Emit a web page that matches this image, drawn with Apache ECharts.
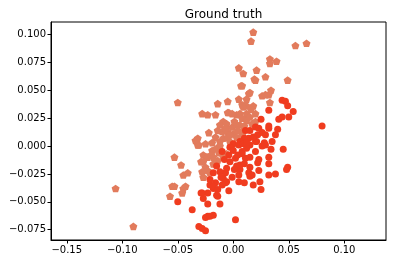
<!DOCTYPE html>
<html><head><meta charset="utf-8">
<script src="https://cdn.jsdelivr.net/npm/echarts@6/dist/echarts.min.js"></script>
<style>html,body{margin:0;padding:0;background:#fff}#c{width:393px;height:264px}</style>
</head><body><div id="c"></div>
<script>
const title = 'Ground truth';
const xTicks = [-0.15, -0.10, -0.05, 0.00, 0.05, 0.10];
const yTicks = [-0.075, -0.050, -0.025, 0.000, 0.025, 0.050, 0.075, 0.100];
const xRange = [-0.1642, 0.1376];
const yRange = [-0.0842, 0.1111];

// salmon pentagons
const seriesB = [
[0.018,0.102],[0.016,0.094],[0.056,0.090],[0.066,0.092],[0.033,0.078],[0.033,0.074],[0.039,0.076],
[0.005,0.070],[0.021,0.068],[0.009,0.065],[0.019,0.060],[0.029,0.062],[0.049,0.059],[0.008,0.054],
[0.020,0.059],[0.014,0.047],[0.026,0.045],[0.032,0.046],[0.034,0.050],[0.005,0.042],[0.012,0.042],
[0.033,0.039],[-0.014,0.038],[-0.005,0.040],[0.008,0.037],[-0.028,0.029],[-0.023,0.028],[-0.016,0.028],
[-0.004,0.030],[0.003,0.028],[-0.050,0.039],[-0.032,0.007],[-0.014,0.014],[-0.032,0.001],[-0.053,-0.010],
[-0.047,-0.017],[-0.045,-0.026],[-0.041,-0.024],[-0.055,-0.036],[-0.053,-0.036],[-0.057,-0.045],
[-0.045,-0.038],[-0.043,-0.036],[-0.046,-0.042],[-0.106,-0.038],[-0.090,-0.072],[-0.029,-0.014],
[-0.023,-0.010],[0.018,0.036],[0.012,0.036],[0.020,0.029],[0.012,0.029],[0.006,0.019],[0.009,0.014],
[-0.009,0.022],[-0.006,0.020],[-0.001,0.017],[0.003,0.019],[-0.010,0.013],[-0.005,0.013],[0.000,0.011],
[-0.009,0.007],[-0.005,0.008],[0.003,0.008],[0.008,0.010],[-0.034,0.005],[-0.031,0.001],[-0.025,0.002],
[-0.019,0.003],[-0.012,0.004],[-0.003,0.004],[-0.027,-0.008],[-0.024,-0.010],[-0.019,-0.004],
[-0.015,-0.002],[-0.027,-0.014],[-0.025,-0.019],[-0.023,-0.022],[-0.021,-0.024],[-0.028,-0.023],
[-0.027,-0.028],[-0.018,-0.016],[-0.014,-0.013],[-0.009,-0.010],[-0.006,-0.007],[0.007,0.054],
[0.015,0.048],[0.029,0.046],[0.009,0.035],[-0.005,0.030],[-0.001,0.029],[0.006,0.029],[0.008,0.025],
[0.012,0.023],[0.015,0.026],[0.020,0.022],[0.016,0.033],[0.017,0.020],[-0.012,0.000],[-0.020,-0.008],
[-0.016,0.008],[-0.001,0.000],[0.004,0.014],[-0.022,0.012],[-0.007,0.016],[0.001,0.022],
[-0.012,0.019],[0.010,0.018],[-0.003,0.010],[-0.018,-0.010],[-0.013,-0.006]
];

// red circles
const seriesA = [
[0.080,0.018],[0.044,0.041],[0.047,0.040],[0.049,0.036],[0.032,0.032],[0.054,0.031],[0.041,0.024],
[0.044,0.026],[0.050,0.026],[0.025,0.024],[0.032,0.018],[0.032,0.016],[0.020,0.017],[0.023,0.016],
[0.011,0.014],[0.015,0.014],[0.022,0.010],[0.029,0.010],[0.038,0.010],[0.014,0.007],[0.010,0.007],
[0.021,0.004],[0.028,0.003],[0.035,0.004],[0.006,0.004],[0.000,0.002],[0.045,-0.003],[0.034,-0.003],
[0.032,-0.010],[0.032,-0.016],[0.023,-0.012],[0.022,-0.015],[0.049,-0.019],[0.048,-0.021],[0.023,-0.022],
[0.006,-0.021],[0.015,-0.019],[0.032,-0.026],[0.038,-0.025],[0.015,-0.027],[0.014,-0.024],[0.005,-0.026],
[0.005,-0.032],[0.010,-0.033],[0.024,-0.032],[0.025,-0.039],[-0.007,-0.024],[-0.006,-0.032],
[-0.007,-0.033],[-0.016,-0.033],[-0.021,-0.035],[-0.018,-0.038],[-0.014,-0.045],[-0.023,-0.052],
[-0.018,-0.062],[-0.023,-0.063],[-0.025,-0.064],[0.002,-0.066],[-0.028,-0.074],[-0.025,-0.076],
[-0.050,-0.050],[-0.037,-0.057],[-0.031,-0.072],[-0.029,-0.042],[-0.021,-0.063],[-0.003,-0.001],
[0.005,0.001],[0.008,-0.005],[0.002,-0.011],[-0.003,-0.014],[0.006,-0.017],[-0.006,-0.020],
[-0.012,-0.023],[-0.018,-0.024],[-0.009,-0.029],[-0.001,-0.028],[-0.018,-0.036],[-0.014,-0.039],
[-0.023,-0.042],[-0.028,-0.042],[-0.027,-0.047],[-0.015,-0.044],[-0.021,-0.030],[-0.010,-0.035],
[0.009,0.002],[0.015,0.001],[0.020,0.004],[0.029,0.001],[0.008,-0.007],[0.011,-0.011],[0.015,-0.010],
[0.020,-0.005],[0.017,-0.026],[-0.010,-0.005],[-0.008,-0.012],[0.000,-0.004],[0.012,0.003],
[0.026,0.000],[0.040,0.015],[0.018,-0.035],[-0.004,-0.040],[-0.012,-0.052],[0.003,-0.018],
[-0.015,-0.018],[0.004,-0.008],[0.012,-0.002],[0.018,0.008],[0.026,0.012],[0.001,-0.021],
[-0.004,-0.008],[0.010,-0.016],[-0.011,-0.028]
];

const fmt = (v, d) => (v < 0 ? '\u2212' : '') + Math.abs(v).toFixed(d);
const pentagon = 'path://M0,-1 L0.951,-0.309 L0.588,0.809 L-0.588,0.809 L-0.951,-0.309 Z';
const font = 'DejaVu Sans';

const chart = echarts.init(document.getElementById('c'), null, {renderer: 'canvas'});
chart.setOption({
  animation: false,
  title: {text: title, left: 218.5, top: 4, textAlign: 'center',
    textStyle: {fontFamily: font, fontSize: 12, fontWeight: 'normal', color: '#000'}},
  grid: {left: 51, right: 7, top: 22, bottom: 24, show: true, borderColor: '#000', borderWidth: 1, backgroundColor: 'transparent'},
  xAxis: {type: 'value', min: xRange[0], max: xRange[1],
    axisLine: {show: true, onZero: false, lineStyle: {color: '#000', width: 1}},
    splitLine: {show: false},
    axisTick: {show: true, length: 3.5, lineStyle: {color: '#000'}, customValues: xTicks},
    axisLabel: {fontFamily: font, fontSize: 10, color: '#000', margin: 5, customValues: xTicks,
      formatter: v => fmt(v, 2)}},
  yAxis: {type: 'value', min: yRange[0], max: yRange[1],
    axisLine: {show: true, onZero: false, lineStyle: {color: '#000', width: 1}},
    splitLine: {show: false},
    axisTick: {show: true, length: 3.5, lineStyle: {color: '#000'}, customValues: yTicks},
    axisLabel: {fontFamily: font, fontSize: 10, color: '#000', margin: 5, customValues: yTicks,
      formatter: v => fmt(v, 3)}},
  series: [
    {type: 'scatter', data: seriesB, symbol: pentagon, symbolKeepAspect: true, symbolSize: 8,
      itemStyle: {color: '#e27b5c', opacity: 1}},
    {type: 'scatter', data: seriesA, symbol: 'circle', symbolSize: 7,
      itemStyle: {color: '#f03c1f', opacity: 1}}
  ]
});
</script></body></html>
